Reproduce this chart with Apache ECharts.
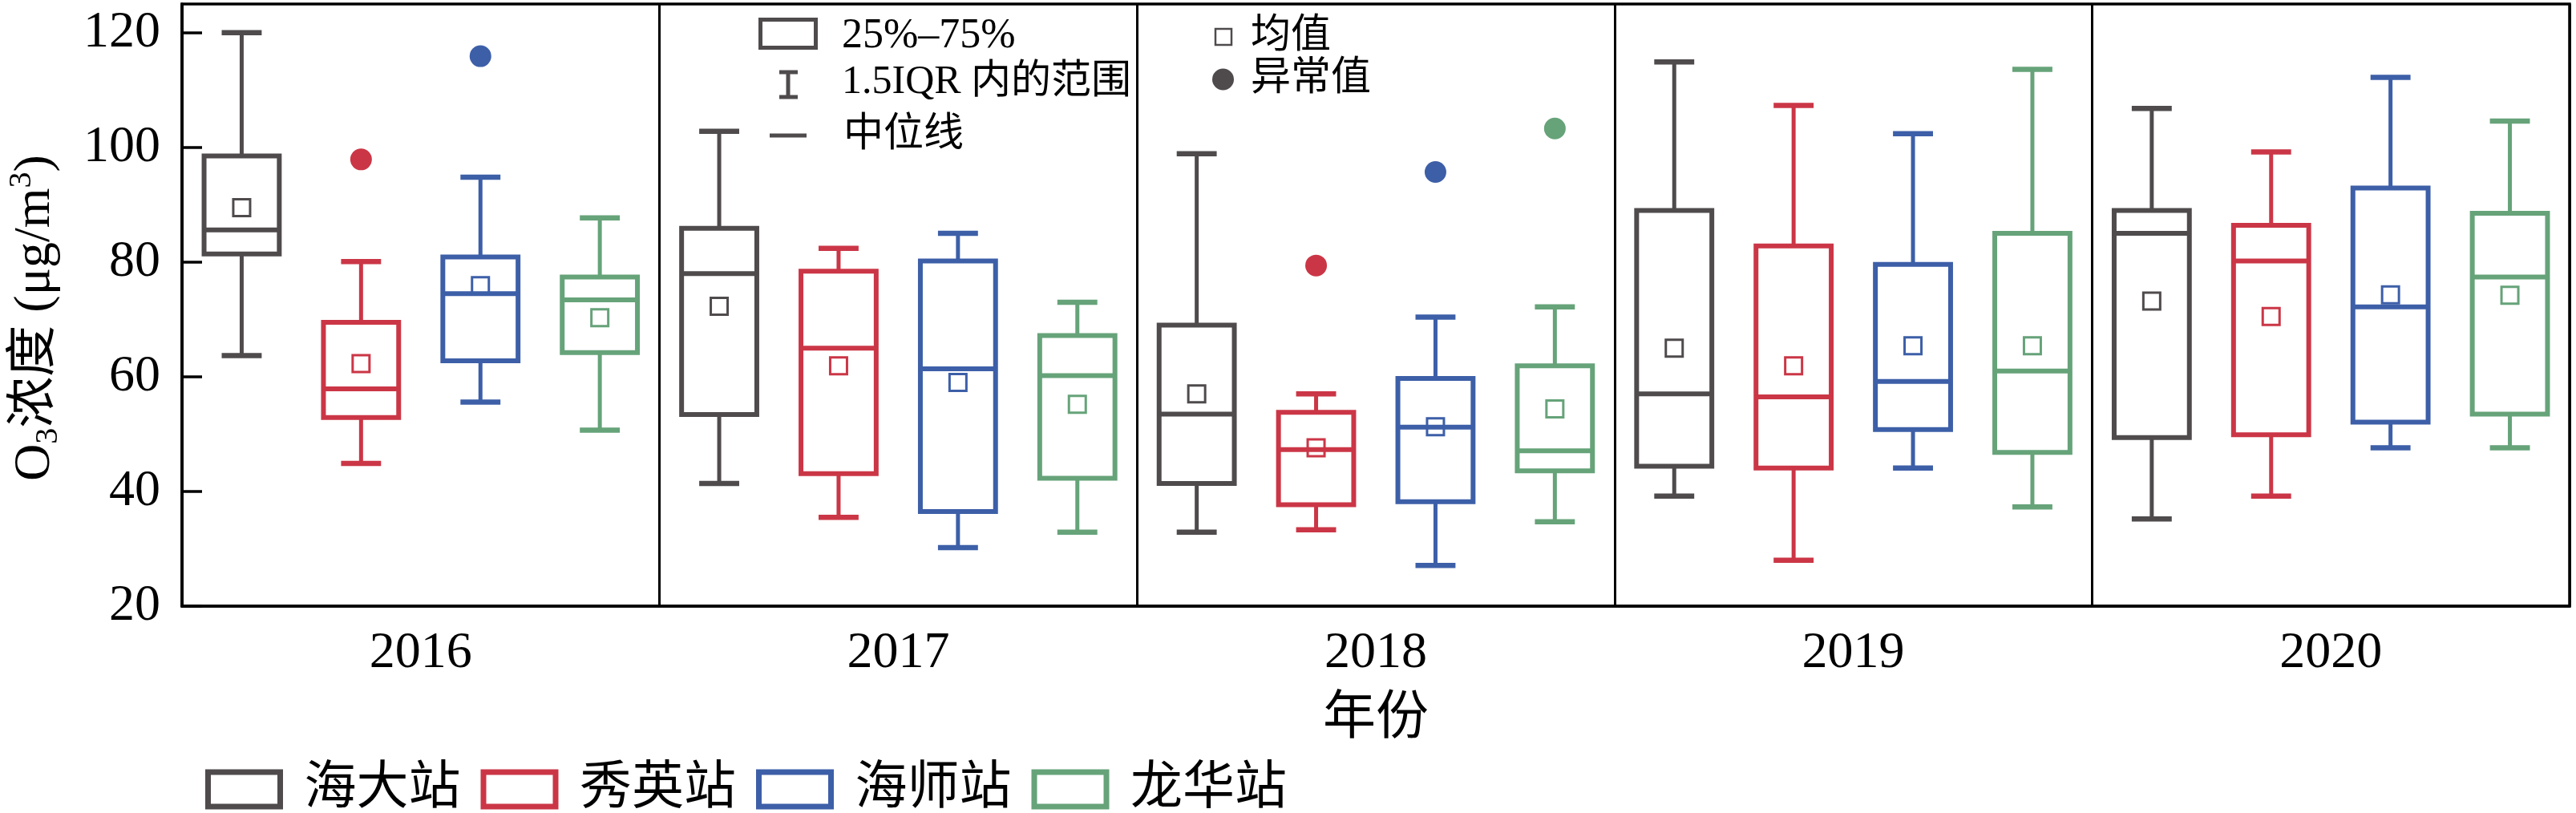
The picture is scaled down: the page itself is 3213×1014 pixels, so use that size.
<!DOCTYPE html>
<html><head><meta charset="utf-8">
<script src="https://cdn.jsdelivr.net/npm/echarts@6/dist/echarts.min.js"></script>
<style>html,body{margin:0;padding:0;background:#fff}#c{width:3213px;height:1014px}</style>
</head><body><div id="c"></div>
<script>
// ---- data ----
const years = ['2016', '2017', '2018', '2019', '2020'];
const stations = ['海大站', '秀英站', '海师站', '龙华站'];
const yTicks = [20, 40, 60, 80, 100, 120];
// each row: [whisker low, Q1, median, Q3, whisker high]
const haidaBox = [[63.7, 81.4, 85.6, 98.5, 120.0], [41.4, 53.4, 78.0, 85.9, 102.8], [32.9, 41.4, 53.5, 69.0, 98.9], [39.2, 44.4, 57.0, 89.0, 114.9], [35.2, 49.4, 85.0, 89.0, 106.8]];
const xiuyingBox = [[44.9, 52.9, 57.9, 69.5, 80.1], [35.5, 43.1, 65.0, 78.4, 82.4], [33.3, 37.7, 47.3, 53.8, 57.0], [28.0, 44.1, 56.5, 82.8, 107.3], [39.2, 49.9, 80.2, 86.4, 99.2]];
const haishiBox = [[55.6, 62.8, 74.5, 80.9, 94.8], [30.2, 36.5, 61.4, 80.2, 85.0], [27.1, 38.2, 51.2, 59.7, 70.4], [44.1, 50.8, 59.2, 79.6, 102.4], [47.6, 52.1, 72.2, 92.9, 112.2]];
const longhuaBox = [[50.7, 64.2, 73.4, 77.4, 87.7], [32.9, 42.3, 60.2, 67.2, 73.0], [34.7, 43.6, 47.1, 61.9, 72.2], [37.3, 46.8, 61.0, 85.0, 113.6], [47.6, 53.5, 77.4, 88.5, 104.6]];
const haidaMean = [89.5, 72.3, 57.0, 65.0, 73.2];
const xiuyingMean = [62.3, 61.9, 47.6, 61.9, 70.5];
const haishiMean = [75.9, 59.0, 51.3, 65.4, 74.3];
const longhuaMean = [70.3, 55.2, 54.4, 65.4, 74.2];
const haidaOut = [null, null, null, null, null];
const xiuyingOut = [97.9, null, 79.4, null, null];
const haishiOut = [115.9, null, 95.7, null, null];
const longhuaOut = [null, null, 103.3, null, null];

const boxes = [haidaBox, xiuyingBox, haishiBox, longhuaBox];
const means = [haidaMean, xiuyingMean, haishiMean, longhuaMean];
const outliers = [haidaOut, xiuyingOut, haishiOut, longhuaOut];
const colors = ['#4f4b4d', '#cb3646', '#3d5fa8', '#66a379'];
const FONT = '"Liberation Serif", "Noto Sans CJK SC", serif';

function renderStation(k) {
  const col = colors[k];
  return function (params, api) {
    const i = api.value(0);
    const band = api.size([1, 0])[0];
    const slot = band / 4;
    const cx = api.coord([i, 50])[0] + (k - 1.5) * slot;
    const bw = slot * 0.63;
    const cw = slot * 0.335;
    const y = v => api.coord([i, v])[1];
    const yl = y(api.value(1)), yq1 = y(api.value(2)), ym = y(api.value(3)),
          yq3 = y(api.value(4)), yh = y(api.value(5)), ya = y(api.value(6));
    const line = (x1, y1, x2, y2, w) => ({type: 'line', shape: {x1, y1, x2, y2}, style: {stroke: col, lineWidth: w}});
    const children = [
      line(cx, yq3, cx, yh, 5),
      line(cx, yq1, cx, yl, 5),
      line(cx - cw / 2, yh, cx + cw / 2, yh, 6.5),
      line(cx - cw / 2, yl, cx + cw / 2, yl, 6.5),
      {type: 'rect', shape: {x: cx - bw / 2, y: yq3, width: bw, height: yq1 - yq3}, style: {fill: 'none', stroke: col, lineWidth: 6}},
      line(cx - bw / 2, ym, cx + bw / 2, ym, 6),
      {type: 'rect', shape: {x: cx - 10.5, y: ya - 10.5, width: 21, height: 21}, style: {fill: 'none', stroke: col, lineWidth: 3}}
    ];
    const o = outliers[k][params.dataIndex];
    if (o != null) children.push({type: 'circle', shape: {cx: cx, cy: y(o), r: 13.5}, style: {fill: col}});
    return {type: 'group', children: children};
  };
}

const series = stations.map((name, k) => ({
  type: 'custom',
  name: name,
  itemStyle: {color: colors[k]},
  encode: {x: 0, y: [1, 2, 3, 4, 5, 6]},
  data: years.map((yr, i) => [i].concat(boxes[k][i], [means[k][i]])),
  renderItem: renderStation(k)
}));

const G = '#4f4b4d';
const txt = (text, x, y, size) => ({type: 'text', x: x, y: y, style: {text: text, fill: '#000', fontSize: size, fontFamily: FONT, verticalAlign: 'middle', align: 'left'}});
const graphic = [
  {type: 'rect', shape: {x: 948.5, y: 24.5, width: 69, height: 35}, style: {fill: 'none', stroke: G, lineWidth: 5}},
  txt('25%–75%', 1050, 45, 52),
  {type: 'line', shape: {x1: 983, y1: 89, x2: 983, y2: 122}, style: {stroke: G, lineWidth: 5}},
  {type: 'line', shape: {x1: 972, y1: 90, x2: 995, y2: 90}, style: {stroke: G, lineWidth: 5}},
  {type: 'line', shape: {x1: 972, y1: 121, x2: 995, y2: 121}, style: {stroke: G, lineWidth: 5}},
  txt('1.5IQR 内的范围', 1050, 103, 50),
  {type: 'line', shape: {x1: 960, y1: 169, x2: 1006, y2: 169}, style: {stroke: G, lineWidth: 5}},
  txt('中位线', 1052, 169, 50),
  {type: 'rect', shape: {x: 1516, y: 36, width: 20, height: 20}, style: {fill: 'none', stroke: G, lineWidth: 2.5}},
  txt('均值', 1560, 46, 50),
  {type: 'circle', shape: {cx: 1525.5, cy: 99, r: 13.5}, style: {fill: G}},
  txt('异常值', 1560, 99, 50)
];

const chart = echarts.init(document.getElementById('c'));
chart.setOption({
  animation: false,
  backgroundColor: '#fff',
  grid: {left: 215, top: 5, width: 2990, height: 751, show: true, borderColor: '#000', borderWidth: 3.5, backgroundColor: 'transparent'},
  legend: {
    data: stations.map((n, k) => ({name: n, icon: 'rect', itemStyle: {color: '#fff', borderColor: colors[k], borderWidth: 7}})),
    left: 256, top: 952, padding: 0, itemWidth: 90, itemHeight: 43, itemGap: 25,
    textStyle: {fontSize: 65, fontFamily: FONT, color: '#000', padding: [0, 0, 0, 25]}
  },
  xAxis: {
    type: 'category', data: years, boundaryGap: true,
    axisLine: {lineStyle: {color: '#000', width: 3.5}},
    axisTick: {show: false, interval: 0},
    splitLine: {show: true, interval: 0, lineStyle: {color: '#000', width: 3}},
    axisLabel: {fontSize: 64, fontFamily: FONT, color: '#000', margin: 27, interval: 0},
    name: '年份', nameLocation: 'middle', nameGap: 109,
    nameTextStyle: {fontSize: 66, fontFamily: FONT, color: '#000'}
  },
  yAxis: {
    type: 'value', min: 20, max: 125, interval: 20,
    axisLine: {show: true, lineStyle: {color: '#000', width: 3.5}},
    axisTick: {show: true, inside: true, length: 25, lineStyle: {color: '#000', width: 3.5}},
    splitLine: {show: false},
    axisLabel: {fontSize: 64, fontFamily: FONT, color: '#000', margin: 27, showMaxLabel: false,
      formatter: v => (yTicks.indexOf(v) >= 0 ? String(v) : '')},
    name: '{n|O}{sub|3}{n|浓度 (μg/m}{sup|3}{n|)}', nameLocation: 'middle', nameGap: 147, nameRotate: 90,
    nameTextStyle: {
      fontSize: 64, fontFamily: FONT, color: '#000', padding: [0, 32, 0, 0],
      rich: {
        n: {fontSize: 64, fontFamily: FONT, color: '#000', lineHeight: 72},
        sub: {fontSize: 40, fontFamily: FONT, color: '#000', verticalAlign: 'bottom', lineHeight: 40},
        sup: {fontSize: 40, fontFamily: FONT, color: '#000', verticalAlign: 'top', lineHeight: 40}
      }
    }
  },
  graphic: graphic,
  series: series
});
</script>
</body></html>
